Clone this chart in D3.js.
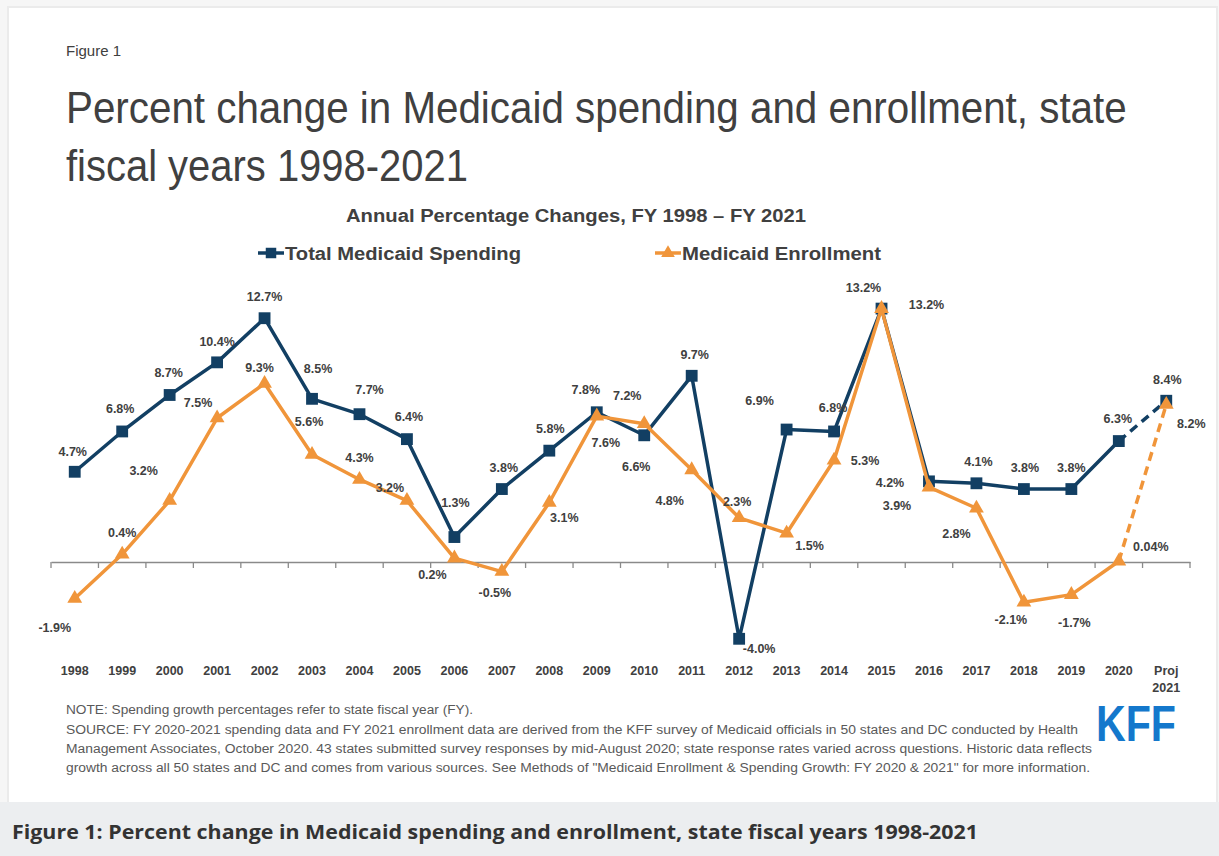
<!DOCTYPE html>
<html>
<head>
<meta charset="utf-8">
<script src="https://cdn.jsdelivr.net/npm/d3@7"></script>
<style>
  html, body { margin: 0; padding: 0; background: #ffffff; }
  svg { display: block; }
  text { font-family: "Liberation Sans", Arial, sans-serif; }
</style>
</head>
<body>
<script>
// Fiscal years on the category axis
const years = ["1998","1999","2000","2001","2002","2003","2004","2005","2006","2007","2008",
  "2009","2010","2011","2012","2013","2014","2015","2016","2017","2018","2019","2020","Proj 2021"];

// Annual percentage change, total Medicaid spending
const spending = [4.7, 6.8, 8.7, 10.4, 12.7, 8.5, 7.7, 6.4, 1.3, 3.8, 5.8,
  7.8, 6.6, 9.7, -4.0, 6.9, 6.8, 13.2, 4.2, 4.1, 3.8, 3.8, 6.3, 8.4];

// Annual percentage change, Medicaid enrollment
const enrollment = [-1.9, 0.4, 3.2, 7.5, 9.3, 5.6, 4.3, 3.2, 0.2, -0.5, 3.1,
  7.6, 7.2, 4.8, 2.3, 1.5, 5.3, 13.2, 3.9, 2.8, -2.1, -1.7, 0.04, 8.2];

// Value-label placement relative to each marker: [dx, dy to baseline]
const spendingLabelOffset = [
  [-2,-16],[-2,-18],[-1,-18],[0,-16],[0,-17],[6,-26],[10,-20],[2,-18],[1,-30],[2,-17],[1,-18],
  [-11,-18],[-8,36],[3,-17],[20,14],[-27,-25],[-1,-19],[-18,-17],[-39,6],[2,-17],[1,-17],[0,-17],[-1,-18],[1,-17]];
const enrollmentLabelOffset = [
  [-20,34],[0,-17],[-26,-26],[-19,-11],[-5,-11],[-3,-28],[0,-17],[-17,-9],[-22,21],[-7,25],[15,20],
  [9,31],[-17,-24],[-22,35],[-2,-12],[23,17],[31,5],[45,0],[-32,23],[-20,30],[-13,22],[3,32],[32,-10],[25,23]];

const footnotes = [
  "NOTE: Spending growth percentages refer to state fiscal year (FY).",
  "SOURCE: FY 2020-2021 spending data and FY 2021 enrollment data are derived from the KFF survey of Medicaid officials in 50 states and DC conducted by Health",
  "Management Associates, October 2020. 43 states submitted survey responses by mid-August 2020; state response rates varied across questions. Historic data reflects",
  "growth across all 50 states and DC and comes from various sources. See Methods of \"Medicaid Enrollment & Spending Growth: FY 2020 & 2021\" for more information."
];
const footnoteWidths = [407, 1012, 1026, 1024];

const W = 1219, H = 856;
const navy = "#123f63", orange = "#f0953a", ink = "#404040";

const svg = d3.select("body").append("svg").attr("width", W).attr("height", H);

// card + caption band
svg.append("rect").attr("x", 0).attr("y", 0).attr("width", W).attr("height", H).attr("fill", "#f6f6f6");
svg.append("rect").attr("x", 8).attr("y", 7).attr("width", W - 10).attr("height", 800).attr("fill", "#ffffff")
  .attr("stroke", "#ebebeb").attr("stroke-width", 2);
svg.append("rect").attr("x", 0).attr("y", 802).attr("width", W).attr("height", H - 802).attr("fill", "#eceef0");
svg.append("text").attr("x", 12).attr("y", 839)
  .style("font-family", "'Open Sans', sans-serif").style("font-weight", 700).style("font-size", "19px")
  .attr("fill", "#333").attr("textLength", 966).attr("lengthAdjust", "spacingAndGlyphs")
  .text("Figure 1: Percent change in Medicaid spending and enrollment, state fiscal years 1998-2021");

// headings (slightly condensed large type)
svg.append("text").attr("x", 66).attr("y", 56).attr("fill", ink).style("font-size", "15px").text("Figure 1");
function condensedTitle(str, x, yb, width) {
  const t = svg.append("text").attr("x", 0).attr("y", 0).attr("fill", ink).style("font-size", "44px").text(str);
  const natural = t.node().getComputedTextLength();
  t.attr("transform", `translate(${x},${yb}) scale(${width / natural},1)`);
}
condensedTitle("Percent change in Medicaid spending and enrollment, state", 66, 123, 1061);
condensedTitle("fiscal years 1998-2021", 66, 181, 402);
svg.append("text").attr("x", 346).attr("y", 222).attr("fill", ink).style("font-size", "18px").style("font-weight", 700)
  .attr("textLength", 460).attr("lengthAdjust", "spacingAndGlyphs")
  .text("Annual Percentage Changes, FY 1998 \u2013 FY 2021");

// scales
const xBand = d3.scaleBand().domain(years).range([51, 1190]).paddingInner(0).paddingOuter(0);
const xc = d => xBand(d) + xBand.bandwidth() / 2;
const y = d3.scaleLinear().domain([0, 13.2]).range([562, 308.6]);

// zero axis with ticks at category boundaries
const axisG = svg.append("g").attr("transform", `translate(0,${y(0)})`)
  .call(d3.axisBottom(xBand).tickSize(0).tickFormat(""));
axisG.select(".domain").attr("stroke", "#8a8a8a").attr("stroke-width", 1.3);
const bounds = years.map(d => xBand(d)).concat([xBand.range()[1]]);
axisG.selectAll("line.bound").data(bounds).enter().append("line").attr("class", "bound")
  .attr("x1", d => d).attr("x2", d => d).attr("y1", 0).attr("y2", 6)
  .attr("stroke", "#8a8a8a").attr("stroke-width", 1.3);

// category labels
const catG = svg.append("g");
years.forEach(d => {
  const t = catG.append("text").attr("x", xc(d)).attr("y", 675).attr("text-anchor", "middle")
    .attr("fill", ink).style("font-size", "12.5px").style("font-weight", 700);
  const parts = d.split(" ");
  parts.forEach((p, i) => t.append("tspan").attr("x", xc(d)).attr("dy", i === 0 ? 0 : 17).text(p));
});

const fmt = v => (v !== 0 && Math.abs(v) < 0.1 ? v.toFixed(2) : v.toFixed(1)) + "%";

function drawSeries(values, color, symbol, symSize) {
  const pts = values.map((v, i) => ({ cat: years[i], v, i }));
  const line = d3.line().x(d => xc(d.cat)).y(d => y(d.v));
  const n = pts.length;
  // reported years solid, projected year dashed
  svg.append("path").datum(pts.slice(0, n - 1)).attr("d", line)
    .attr("fill", "none").attr("stroke", color).attr("stroke-width", 3.5).attr("stroke-linejoin", "round");
  svg.append("path").datum(pts.slice(n - 2)).attr("d", line)
    .attr("fill", "none").attr("stroke", color).attr("stroke-width", 3.5).attr("stroke-dasharray", "9,6");
  svg.append("g").selectAll("path").data(pts).enter().append("path")
    .attr("transform", d => `translate(${xc(d.cat)},${y(d.v)})`)
    .attr("d", d3.symbol().type(symbol).size(symSize)).attr("fill", color);
  return pts;
}

const sp = drawSeries(spending, navy, d3.symbolSquare, 140);
const en = drawSeries(enrollment, orange, d3.symbolTriangle, 95);

// value labels
function drawLabels(pts, offsets) {
  svg.append("g").selectAll("text").data(pts).enter().append("text")
    .attr("x", d => xc(d.cat) + offsets[d.i][0])
    .attr("y", d => y(d.v) + offsets[d.i][1])
    .attr("text-anchor", "middle").attr("fill", ink)
    .style("font-size", "12.5px").style("font-weight", 700)
    .text(d => fmt(d.v));
}
drawLabels(sp, spendingLabelOffset);
drawLabels(en, enrollmentLabelOffset);

// legend
const legend = [
  { name: "Total Medicaid Spending", color: navy, symbol: d3.symbolSquare, size: 110, x: 258, w: 236 },
  { name: "Medicaid Enrollment", color: orange, symbol: d3.symbolTriangle, size: 80, x: 655, w: 199 }
];
legend.forEach(l => {
  const g = svg.append("g").attr("transform", `translate(${l.x},253)`);
  g.append("line").attr("x1", 0).attr("x2", 26).attr("stroke", l.color).attr("stroke-width", 3.5);
  g.append("path").attr("transform", "translate(13,0)").attr("d", d3.symbol().type(l.symbol).size(l.size)).attr("fill", l.color);
  g.append("text").attr("x", 27).attr("y", 7).attr("fill", ink).style("font-size", "18px").style("font-weight", 700)
    .attr("textLength", l.w).attr("lengthAdjust", "spacingAndGlyphs").text(l.name);
});

// notes
const noteY = [714, 734, 753, 772];
footnotes.forEach((t, i) => {
  svg.append("text").attr("x", 66).attr("y", noteY[i]).attr("fill", "#595959").style("font-size", "12.5px")
    .attr("textLength", footnoteWidths[i]).attr("lengthAdjust", "spacingAndGlyphs").text(t);
});

// logo
svg.append("text").attr("x", 1096).attr("y", 741).attr("fill", "#1478cc")
  .style("font-size", "50px").style("font-weight", 700)
  .attr("textLength", 80).attr("lengthAdjust", "spacingAndGlyphs").text("KFF");
</script>
</body>
</html>
